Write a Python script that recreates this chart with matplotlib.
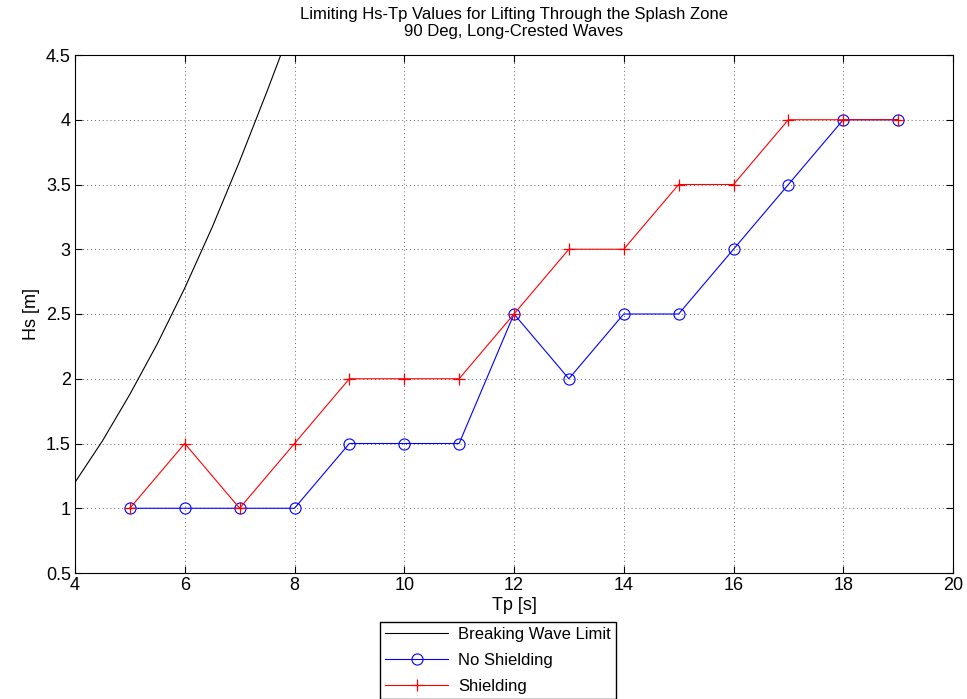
import matplotlib
matplotlib.use("Agg")
import matplotlib.pyplot as plt

plt.rcParams['font.family'] = ['Liberation Sans', 'DejaVu Sans']

# Breaking wave limit
brk_tp = [4.0, 4.5, 5.0, 5.5, 6.0, 6.5, 7.0, 7.5, 7.75]
brk_hs = [1.20, 1.52, 1.88, 2.27, 2.70, 3.17, 3.68, 4.22, 4.50]

tp = [5, 6, 7, 8, 9, 10, 11, 12, 13, 14, 15, 16, 17, 18, 19]
no_shield = [1, 1, 1, 1, 1.5, 1.5, 1.5, 2.5, 2.0, 2.5, 2.5, 3.0, 3.5, 4.0, 4.0]
shield = [1, 1.5, 1, 1.5, 2.0, 2.0, 2.0, 2.5, 3.0, 3.0, 3.5, 3.5, 4.0, 4.0, 4.0]

xticks = [4, 6, 8, 10, 12, 14, 16, 18, 20]
yticks = [0.5, 1, 1.5, 2, 2.5, 3, 3.5, 4, 4.5]
ytick_labels = ['0.5', '1', '1.5', '2', '2.5', '3', '3.5', '4', '4.5']

fig = plt.figure(figsize=(9.67, 6.99), dpi=100)
ax = fig.add_axes([75/967, 1-573/699, (953-75)/967, (573-55)/699])

ax.plot(brk_tp, brk_hs, color='black', lw=0.8, label='Breaking Wave Limit')
ax.plot(tp, no_shield, color='blue', lw=0.8, marker='o', ms=8, mfc='none',
        mec='blue', mew=0.8, label='No Shielding')
ax.plot(tp, shield, color='red', lw=0.8, marker='+', ms=9, mew=0.9,
        label='Shielding')

ax.set_xlim(4, 20)
ax.set_ylim(0.5, 4.5)
ax.set_xticks(xticks)
ax.set_yticks(yticks)
ax.set_yticklabels(ytick_labels)
ax.tick_params(direction='in', labelsize=13, length=5, top=True, right=True, pad=3)
ax.grid(True, linestyle=(0, (1, 3)), color='#666666', lw=0.7)
ax.set_xlabel('Tp [s]', fontsize=13, labelpad=2)
ax.set_ylabel('Hs [m]', fontsize=13, labelpad=4)
ax.set_title('Limiting Hs-Tp Values for Lifting Through the Splash Zone\n90 Deg, Long-Crested Waves',
             fontsize=12, linespacing=1.1, pad=14)
for s in ax.spines.values():
    s.set_linewidth(0.8)

fig.legend(loc='upper left', bbox_to_anchor=(380/967, 1-622/699), fontsize=12,
           fancybox=False, edgecolor='black', framealpha=1, borderaxespad=0,
           handlelength=3.8, labelspacing=0.65, borderpad=0.3, handletextpad=0.6)

fig.savefig('out.png', dpi=100)
